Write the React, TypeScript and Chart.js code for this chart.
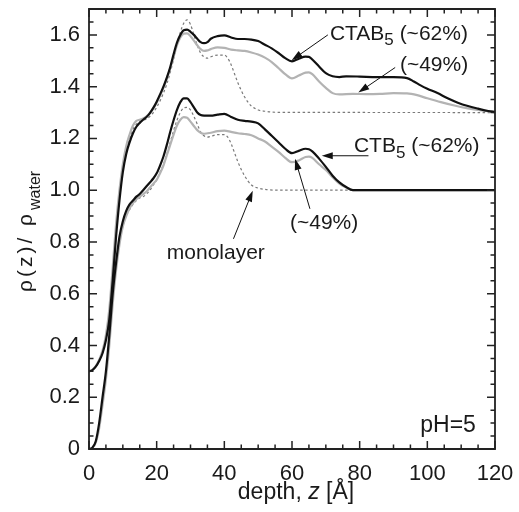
import { useEffect, useRef } from "react";
import { Chart, registerables } from "chart.js";

Chart.register(...registerables);

const FONT = '"Liberation Sans", Arial, Helvetica, sans-serif';

// ---- CTB5 (lower set) ----
const ctb62X = [0, 1, 2, 3, 4, 5, 6, 7, 8, 9, 10, 11, 12, 13, 14, 15, 16, 17, 18, 19, 20, 21, 22, 23, 24, 25, 26, 27, 28, 29, 30, 31, 32, 33, 34, 36, 38, 40, 42, 44, 46, 48, 50, 52, 54, 56, 58, 60, 62, 64, 65, 66, 68, 70, 72, 74, 76, 78, 80, 120];
const ctb62Y = [0, 0.005, 0.03, 0.1, 0.2, 0.3, 0.44, 0.6, 0.72, 0.82, 0.88, 0.92, 0.945, 0.96, 0.975, 0.985, 1.0, 1.015, 1.03, 1.045, 1.065, 1.095, 1.13, 1.175, 1.225, 1.27, 1.31, 1.34, 1.355, 1.355, 1.34, 1.32, 1.3, 1.29, 1.288, 1.288, 1.292, 1.295, 1.283, 1.272, 1.268, 1.265, 1.258, 1.235, 1.21, 1.185, 1.16, 1.143, 1.152, 1.16, 1.158, 1.15, 1.122, 1.09, 1.056, 1.03, 1.012, 1.0, 1.0, 1.0];

const ctb49X = [0, 1, 2, 3, 4, 5, 6, 7, 8, 9, 10, 11, 12, 13, 14, 15, 16, 17, 18, 19, 20, 21, 22, 23, 24, 25, 26, 27, 28, 29, 30, 31, 32, 33, 34, 36, 38, 40, 42, 44, 46, 48, 50, 52, 54, 56, 58, 60, 62, 64, 65, 66, 68, 70, 72, 74, 76, 78, 120];
const ctb49Y = [0, 0.005, 0.025, 0.08, 0.17, 0.27, 0.4, 0.56, 0.69, 0.79, 0.86, 0.9, 0.93, 0.95, 0.965, 0.975, 0.985, 0.995, 1.01, 1.025, 1.04, 1.065, 1.095, 1.135, 1.175, 1.215, 1.25, 1.272, 1.282, 1.28, 1.265, 1.248, 1.232, 1.222, 1.218, 1.222, 1.228, 1.23, 1.225, 1.22, 1.217, 1.212, 1.2, 1.188, 1.168, 1.148, 1.125, 1.108, 1.115, 1.128, 1.13, 1.125, 1.1, 1.078, 1.05, 1.025, 1.01, 1.0, 1.0];

const monoLowX = [0, 1, 2, 3, 4, 5, 6, 7, 8, 9, 10, 11, 12, 13, 14, 15, 16, 17, 18, 19, 20, 21, 22, 23, 24, 25, 26, 27, 28, 29, 30, 31, 32, 33, 34, 35, 36, 38, 40, 41, 42, 43, 44, 45, 46, 47, 48, 50, 52, 55, 120];
const monoLowY = [0, 0.005, 0.03, 0.09, 0.18, 0.29, 0.43, 0.58, 0.7, 0.8, 0.86, 0.9, 0.925, 0.945, 0.96, 0.97, 0.975, 0.985, 1.0, 1.02, 1.04, 1.07, 1.1, 1.14, 1.185, 1.23, 1.27, 1.3, 1.318, 1.32, 1.31, 1.285, 1.255, 1.225, 1.21, 1.205, 1.208, 1.215, 1.215, 1.205, 1.18, 1.145, 1.11, 1.08, 1.055, 1.035, 1.02, 1.008, 1.003, 1.0, 1.0];

// ---- CTAB5 (upper set, offset) ----
const ctab62X = [0, 1, 2, 3, 4, 5, 6, 7, 8, 9, 10, 11, 12, 13, 14, 15, 16, 17, 18, 19, 20, 21, 22, 23, 24, 25, 26, 27, 28, 29, 30, 31, 32, 33, 34, 35, 36, 38, 40, 42, 44, 46, 48, 50, 52, 54, 56, 58, 60, 62, 64, 65, 66, 68, 70, 72, 74, 76, 80, 85, 90, 94, 96, 98, 100, 103, 106, 109, 112, 115, 118, 120];
const ctab62Y = [0.3, 0.305, 0.318, 0.34, 0.37, 0.42, 0.5, 0.65, 0.82, 0.96, 1.07, 1.14, 1.185, 1.22, 1.245, 1.26, 1.272, 1.283, 1.298, 1.318, 1.342, 1.37, 1.4, 1.435, 1.475, 1.525, 1.57, 1.6, 1.618, 1.62, 1.612, 1.6, 1.585, 1.572, 1.568, 1.572, 1.585, 1.595, 1.598, 1.59, 1.584, 1.584, 1.582, 1.576, 1.562, 1.548, 1.53, 1.51, 1.498, 1.508, 1.516, 1.515, 1.505, 1.478, 1.452, 1.44, 1.437, 1.44, 1.439, 1.437, 1.437, 1.433, 1.42, 1.405, 1.392, 1.375, 1.355, 1.338, 1.325, 1.315, 1.306, 1.302];

const ctab49X = [0, 1, 2, 3, 4, 5, 6, 7, 8, 9, 10, 11, 12, 13, 14, 15, 16, 17, 18, 19, 20, 21, 22, 23, 24, 25, 26, 27, 28, 29, 30, 31, 32, 33, 34, 35, 36, 38, 40, 42, 44, 46, 48, 50, 52, 54, 56, 58, 60, 62, 64, 65, 66, 68, 70, 72, 74, 78, 82, 86, 90, 94, 97, 100, 104, 108, 112, 116, 120];
const ctab49Y = [0.3, 0.306, 0.32, 0.345, 0.38, 0.44, 0.54, 0.7, 0.87, 1.0, 1.1, 1.17, 1.215, 1.25, 1.268, 1.272, 1.277, 1.285, 1.298, 1.315, 1.338, 1.365, 1.395, 1.43, 1.47, 1.515, 1.56, 1.59, 1.605, 1.606, 1.595, 1.578, 1.56, 1.545, 1.538, 1.54, 1.545, 1.552, 1.55, 1.543, 1.54, 1.538, 1.532, 1.524, 1.512, 1.495, 1.472, 1.448, 1.432, 1.443, 1.454, 1.455, 1.448, 1.42, 1.395, 1.375, 1.37, 1.372, 1.371, 1.372, 1.375, 1.374, 1.367, 1.355, 1.34, 1.327, 1.316, 1.308, 1.302];

const monoHighX = [0, 1, 2, 3, 4, 5, 6, 7, 8, 9, 10, 11, 12, 13, 14, 15, 16, 17, 18, 19, 20, 21, 22, 23, 24, 25, 26, 27, 28, 29, 30, 31, 32, 33, 34, 35, 36, 38, 40, 41, 42, 43, 44, 45, 46, 47, 48, 50, 52, 55, 120];
const monoHighY = [0.3, 0.305, 0.318, 0.342, 0.375, 0.43, 0.52, 0.67, 0.84, 0.98, 1.08, 1.15, 1.2, 1.235, 1.255, 1.265, 1.27, 1.275, 1.285, 1.3, 1.32, 1.345, 1.375, 1.41, 1.455, 1.505, 1.56, 1.61, 1.645, 1.658, 1.64, 1.6, 1.56, 1.53, 1.515, 1.51, 1.515, 1.522, 1.522, 1.51, 1.485, 1.45, 1.415, 1.385, 1.36, 1.34, 1.325, 1.31, 1.305, 1.301, 1.3];

// ---- axes ----
const xTickValues = [0, 20, 40, 60, 80, 100, 120];
const yTickValues = [0, 0.2, 0.4, 0.6, 0.8, 1.0, 1.2, 1.4, 1.6];

// ---- annotations (data coordinates) ----
type Part = { text: string; sub?: boolean };
const annotationLabels: { x: number; y: number; size: number; parts: Part[] }[] = [
  { x: 71.2, y: 1.581, size: 21, parts: [{ text: "CTAB" }, { text: "5", sub: true }, { text: " (~62%)" }] },
  { x: 91.9, y: 1.461, size: 21, parts: [{ text: "(~49%)" }] },
  { x: 78.3, y: 1.146, size: 21, parts: [{ text: "CTB" }, { text: "5", sub: true }, { text: " (~62%)" }] },
  { x: 59.4, y: 0.851, size: 21, parts: [{ text: "(~49%)" }] },
  { x: 23, y: 0.735, size: 21, parts: [{ text: "monolayer" }] },
  { x: 97.9, y: 0.064, size: 23, parts: [{ text: "pH=5" }] },
];
const annotationArrows: { from: [number, number]; to: [number, number] }[] = [
  { from: [70.6, 1.6], to: [59.9, 1.502] },
  { from: [90.5, 1.474], to: [79.6, 1.377] },
  { from: [82.6, 1.133], to: [68.8, 1.133] },
  { from: [65.3, 0.928], to: [60.9, 1.121] },
  { from: [42.7, 0.812], to: [48.4, 0.998] },
];

const zip = (xs: number[], ys: number[]) => xs.map((x, i) => ({ x, y: ys[i] }));

const TEXT = "#1a1a1a";

const framePlugin = {
  id: "frame",
  afterDatasetsDraw(chart: any) {
    const ctx = chart.ctx as CanvasRenderingContext2D;
    const a = chart.chartArea;
    const xs = chart.scales.x;
    const ys = chart.scales.y;
    ctx.save();
    ctx.setLineDash([]);
    ctx.strokeStyle = "#222222";
    ctx.lineWidth = 1.5;
    ctx.beginPath();
    for (let i = 0; i <= 24; i++) {
      const v = i * 5;
      const len = i % 4 === 0 ? 8 : 4.5;
      const p = xs.getPixelForValue(v);
      ctx.moveTo(p, a.bottom);
      ctx.lineTo(p, a.bottom - len);
      ctx.moveTo(p, a.top);
      ctx.lineTo(p, a.top + len);
    }
    for (let i = 0; i <= 34; i++) {
      const v = i * 0.05;
      const len = i % 4 === 0 ? 8 : 4.5;
      const p = ys.getPixelForValue(v);
      ctx.moveTo(a.left, p);
      ctx.lineTo(a.left + len, p);
      ctx.moveTo(a.right, p);
      ctx.lineTo(a.right - len, p);
    }
    ctx.stroke();
    ctx.lineWidth = 1.8;
    ctx.beginPath();
    ctx.rect(a.left, a.top, a.right - a.left, a.bottom - a.top);
    ctx.stroke();
    ctx.restore();
  },
};

const decorPlugin = {
  id: "decor",
  afterDraw(chart: any) {
    const ctx = chart.ctx as CanvasRenderingContext2D;
    const a = chart.chartArea;
    const xs = chart.scales.x;
    const ys = chart.scales.y;
    ctx.save();
    ctx.setLineDash([]);

    // arrows
    ctx.strokeStyle = "#111";
    ctx.fillStyle = "#111";
    ctx.lineWidth = 1;
    for (const ar of annotationArrows) {
      const x1 = xs.getPixelForValue(ar.from[0]);
      const y1 = ys.getPixelForValue(ar.from[1]);
      const x2 = xs.getPixelForValue(ar.to[0]);
      const y2 = ys.getPixelForValue(ar.to[1]);
      const ang = Math.atan2(y2 - y1, x2 - x1);
      const L = 11;
      const W = 3.5;
      const bx = x2 - Math.cos(ang) * L;
      const by = y2 - Math.sin(ang) * L;
      ctx.beginPath();
      ctx.moveTo(x1, y1);
      ctx.lineTo(bx + Math.cos(ang) * 2, by + Math.sin(ang) * 2);
      ctx.stroke();
      ctx.beginPath();
      ctx.moveTo(x2, y2);
      ctx.lineTo(bx - Math.sin(ang) * W, by + Math.cos(ang) * W);
      ctx.lineTo(bx + Math.sin(ang) * W, by - Math.cos(ang) * W);
      ctx.closePath();
      ctx.fill();
    }

    // labels
    ctx.fillStyle = TEXT;
    ctx.textBaseline = "alphabetic";
    ctx.textAlign = "left";
    for (const lb of annotationLabels) {
      let cx = xs.getPixelForValue(lb.x);
      const by = ys.getPixelForValue(lb.y);
      for (const p of lb.parts) {
        const size = p.sub ? Math.round(lb.size * 0.82) : lb.size;
        ctx.font = `${size}px ${FONT}`;
        ctx.fillText(p.text, cx, by + (p.sub ? 5.5 : 0));
        cx += ctx.measureText(p.text).width;
      }
    }

    // x title
    const xParts = [
      { text: "depth, ", italic: false },
      { text: "z", italic: true },
      { text: " [Å]", italic: false },
    ];
    const xSize = 23;
    let total = 0;
    for (const p of xParts) {
      ctx.font = `${p.italic ? "italic " : ""}${xSize}px ${FONT}`;
      total += ctx.measureText(p.text).width;
    }
    let tx = (a.left + a.right) / 2 - total / 2 + 4;
    for (const p of xParts) {
      ctx.font = `${p.italic ? "italic " : ""}${xSize}px ${FONT}`;
      ctx.fillText(p.text, tx, 499);
      tx += ctx.measureText(p.text).width;
    }

    // y title (rotated)
    ctx.save();
    ctx.translate(31.5, 292);
    ctx.rotate(-Math.PI / 2);
    ctx.font = `21px ${FONT}`;
    (ctx as any).letterSpacing = "3px";
    const main = "ρ(z)/ ρ";
    ctx.fillText(main, 0, 0);
    const mw = ctx.measureText(main).width;
    (ctx as any).letterSpacing = "0px";
    ctx.font = `16px ${FONT}`;
    ctx.fillText("water", mw + 1, 8.5);
    ctx.restore();

    ctx.restore();
  },
};

const zeroPad = (s: any) => {
  s.paddingTop = 0;
  s.paddingBottom = 0;
  s.paddingLeft = 0;
  s.paddingRight = 0;
};

export default function App() {
  const ref = useRef<HTMLCanvasElement | null>(null);

  useEffect(() => {
    document.body.style.margin = "0";
    const canvas = ref.current;
    if (!canvas) return;
    const black = "#111111";
    const gray = "#b3b3b3";
    const dot = "#7a7a7a";
    const lineDs = (label: string, data: any[], color: string, width: number, order: number, dash?: number[]) => ({
      label,
      data,
      borderColor: color,
      borderWidth: width,
      borderDash: dash || [],
      pointRadius: 0,
      fill: false,
      cubicInterpolationMode: "monotone" as const,
      order,
    });
    const chart = new Chart(canvas, {
      type: "line",
      data: {
        datasets: [
          lineDs("CTAB5 (~62%)", zip(ctab62X, ctab62Y), black, 2.2, 1),
          lineDs("CTB5 (~62%)", zip(ctb62X, ctb62Y), black, 2.2, 1),
          lineDs("CTAB5 (~49%)", zip(ctab49X, ctab49Y), gray, 2.2, 2),
          lineDs("CTB5 (~49%)", zip(ctb49X, ctb49Y), gray, 2.2, 2),
          lineDs("monolayer (CTAB)", zip(monoHighX, monoHighY), dot, 1.2, 3, [2.5, 2.5]),
          lineDs("monolayer (CTB)", zip(monoLowX, monoLowY), dot, 1.2, 3, [2.5, 2.5]),
        ],
      },
      options: {
        animation: false,
        responsive: false,
        devicePixelRatio: 1,
        layout: { padding: { top: 9, right: 24, left: 0, bottom: 0 } },
        plugins: { legend: { display: false }, tooltip: { enabled: false } },
        scales: {
          x: {
            type: "linear",
            min: 0,
            max: 120,
            grid: { display: false, drawTicks: false, tickLength: 0 },
            border: { display: false },
            afterBuildTicks: (s: any) => {
              s.ticks = xTickValues.map((v) => ({ value: v }));
            },
            afterFit: (s: any) => {
              s.height = 63;
              zeroPad(s);
            },
            ticks: {
              padding: 12,
              maxRotation: 0,
              color: TEXT,
              font: { family: FONT, size: 22 },
              callback: (v: any) => String(v),
            },
          },
          y: {
            type: "linear",
            min: 0,
            max: 1.7,
            grid: { display: false, drawTicks: false, tickLength: 0 },
            border: { display: false },
            afterBuildTicks: (s: any) => {
              s.ticks = yTickValues.map((v) => ({ value: v }));
            },
            afterFit: (s: any) => {
              s.width = 89;
              zeroPad(s);
            },
            ticks: {
              padding: 9,
              color: TEXT,
              font: { family: FONT, size: 22 },
              callback: (v: any) => (Number(v) === 0 ? "0" : Number(v).toFixed(1)),
            },
          },
        },
      },
      plugins: [framePlugin, decorPlugin],
    } as any);
    return () => chart.destroy();
  }, []);

  return (
    <div style={{ width: 519, height: 512, background: "#fff" }}>
      <canvas ref={ref} width={519} height={512} style={{ display: "block" }} />
    </div>
  );
}
